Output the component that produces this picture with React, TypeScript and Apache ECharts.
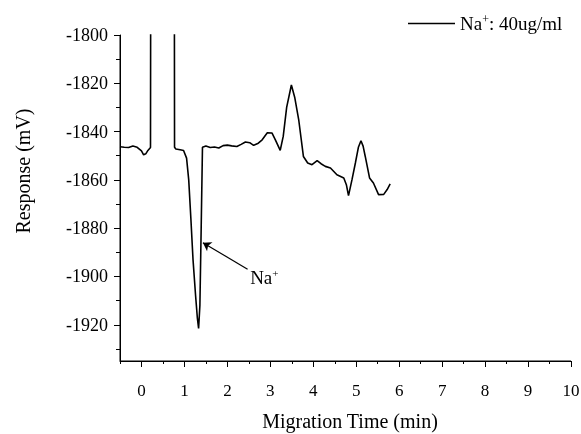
import React, { useEffect, useRef } from "react";
import * as echarts from "echarts";

const seriesName = "Na+: 40ug/ml";
const timeMin = [-0.5, -0.4, -0.3, -0.2, -0.1, 0.0, 0.05, 0.1, 0.15, 0.2, 0.21, 0.22, 0.76, 0.77, 0.8, 0.9, 0.98, 1.05, 1.1, 1.15, 1.2, 1.26, 1.3, 1.33, 1.36, 1.39, 1.42, 1.5, 1.6, 1.7, 1.8, 1.9, 2.0, 2.1, 2.22, 2.32, 2.42, 2.52, 2.61, 2.72, 2.81, 2.93, 3.04, 3.12, 3.23, 3.3, 3.38, 3.49, 3.57, 3.66, 3.77, 3.87, 3.97, 4.09, 4.18, 4.28, 4.4, 4.55, 4.71, 4.77, 4.82, 4.9, 4.98, 5.05, 5.11, 5.16, 5.21, 5.31, 5.4, 5.52, 5.64, 5.72, 5.79];
const responseMv = [-1846.3, -1846.5, -1846.6, -1846.0, -1846.5, -1848.0, -1849.6, -1849.2, -1847.8, -1846.8, -1846.5, -1700, -1700, -1846.5, -1847.2, -1847.5, -1847.8, -1851, -1860, -1876, -1893, -1908, -1917, -1921.5, -1912, -1880, -1846.5, -1846, -1846.6, -1846.4, -1846.8, -1845.8, -1845.6, -1845.9, -1846.2, -1845.3, -1844.3, -1844.6, -1845.7, -1844.8, -1843.4, -1840.5, -1840.6, -1843.5, -1847.8, -1842, -1830, -1820.7, -1826, -1835, -1850.3, -1853, -1853.7, -1852, -1853.3, -1854.4, -1855.1, -1857.9, -1859.2, -1862, -1866.5, -1860, -1853, -1846.5, -1843.8, -1846, -1850.3, -1859.2, -1861.3, -1866.1, -1866, -1864, -1861.7];

const xMajorTicks = [0, 1, 2, 3, 4, 5, 6, 7, 8, 9, 10];
const xMinorTicks = [-0.5, 0.5, 1.5, 2.5, 3.5, 4.5, 5.5, 6.5, 7.5, 8.5, 9.5];
const yMajorTicks = [-1920, -1900, -1880, -1860, -1840, -1820, -1800];
const yMinorTicks = [-1930, -1910, -1890, -1870, -1850, -1830, -1810];

const X_MIN = -0.5;
const X_MAX = 10;
const Y_MIN = -1935;
const Y_MAX = -1800;

const arrowFrom = [1.43, -1886];
const arrowTo = [2.47, -1897];
const labelAt = [2.86, -1900.5];

const FONT = "Liberation Serif";

export default function App() {
  const ref = useRef<HTMLDivElement>(null);
  useEffect(() => {
    if (!ref.current) return;
    const chart = echarts.init(ref.current, undefined, { renderer: "svg" });
    const xRange = { min: X_MIN, max: X_MAX };
    const yRange = { min: Y_MIN, max: Y_MAX };
    chart.setOption({
      animation: false,
      textStyle: { fontFamily: FONT, color: "#000" },
      grid: { left: 120, right: 10, top: 35, bottom: 73, containLabel: false, outerBoundsMode: "none" },
      legend: {
        left: 408,
        top: 13,
        padding: 0,
        icon: "rect",
        itemWidth: 47,
        itemHeight: 1.4,
        itemGap: 5,
        data: [seriesName],
        formatter: () => "{a|Na}{s|+}{a|: 40ug/ml}",
        textStyle: {
          fontFamily: FONT,
          color: "#000",
          rich: {
            a: { fontFamily: FONT, fontSize: 19, color: "#000" },
            s: { fontFamily: FONT, fontSize: 12, color: "#000", padding: [0, 0, 9, 0] },
          },
        },
      },
      xAxis: [
        {
          type: "value",
          ...xRange,
          name: "Migration Time (min)",
          nameLocation: "middle",
          nameGap: 50,
          nameTextStyle: { fontFamily: FONT, fontSize: 20, color: "#000", padding: [0, 0, 0, 9] },
          axisLine: { show: true, onZero: false, lineStyle: { color: "#000", width: 1 } },
          splitLine: { show: false },
          axisTick: { show: true, length: 6, customValues: xMajorTicks, lineStyle: { color: "#000" } },
          axisLabel: { customValues: xMajorTicks, formatter: (v: number) => String(v), fontFamily: FONT, fontSize: 17, color: "#000", margin: 21 },
        },
        {
          type: "value",
          ...xRange,
          position: "bottom",
          axisLine: { show: false, onZero: false },
          splitLine: { show: false },
          axisTick: { show: true, length: 3, customValues: xMinorTicks, lineStyle: { color: "#000" } },
          axisLabel: { show: false },
        },
      ],
      yAxis: [
        {
          type: "value",
          ...yRange,
          name: "Response (mV)",
          nameLocation: "middle",
          nameGap: 87,
          nameTextStyle: { fontFamily: FONT, fontSize: 20, color: "#000", padding: [0, 0, 0, 54] },
          axisLine: { show: true, onZero: false, lineStyle: { color: "#000", width: 1 } },
          splitLine: { show: false },
          axisTick: { show: true, length: 6, customValues: yMajorTicks, lineStyle: { color: "#000" } },
          axisLabel: { customValues: yMajorTicks, formatter: (v: number) => String(v), fontFamily: FONT, fontSize: 18, color: "#000", margin: 12 },
        },
        {
          type: "value",
          ...yRange,
          position: "left",
          axisLine: { show: false, onZero: false },
          splitLine: { show: false },
          axisTick: { show: true, length: 4, customValues: yMinorTicks, lineStyle: { color: "#000" } },
          axisLabel: { show: false },
        },
      ],
      series: [
        {
          name: "axisFrame",
          type: "line",
          xAxisIndex: 0,
          yAxisIndex: 0,
          data: [[X_MIN, Y_MAX], [X_MIN, Y_MIN], [X_MAX, Y_MIN]],
          symbol: "none",
          clip: false,
          silent: true,
          lineStyle: { color: "#000", width: 1 },
          itemStyle: { color: "#000" },
        },
        {
          name: seriesName,
          type: "line",
          xAxisIndex: 0,
          yAxisIndex: 0,
          data: timeMin.map((t, i) => [t, responseMv[i]]),
          symbol: "none",
          clip: true,
          lineStyle: { color: "#000", width: 1.6 },
          itemStyle: { color: "#000" },
          markLine: {
            silent: true,
            symbol: ["arrow", "none"],
            symbolSize: 8,
            label: { show: false },
            lineStyle: { color: "#000", width: 1.2, type: "solid" },
            data: [[{ coord: arrowFrom }, { coord: arrowTo }]],
          },
          markPoint: {
            silent: true,
            symbol: "circle",
            symbolSize: 0,
            data: [
              {
                coord: labelAt,
                label: {
                  show: true,
                  position: "inside",
                  formatter: "{a|Na}{s|+}",
                  rich: {
                    a: { fontFamily: FONT, fontSize: 19, color: "#000" },
                    s: { fontFamily: FONT, fontSize: 11, color: "#000", padding: [0, 0, 9, 0] },
                  },
                },
              },
            ],
          },
        },
      ],
    });
    return () => chart.dispose();
  }, []);
  return <div ref={ref} style={{ position: "fixed", left: 0, top: 0, width: 581, height: 434 }} />;
}
